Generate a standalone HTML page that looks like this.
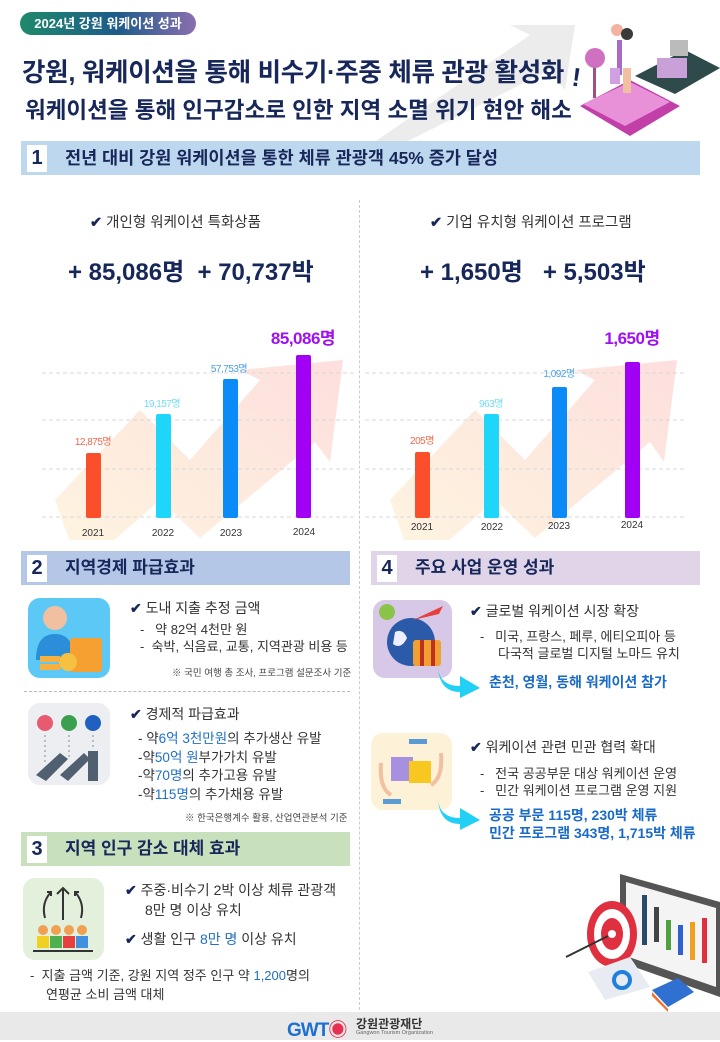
<!DOCTYPE html>
<html><head><meta charset="utf-8">
<style>
*{margin:0;padding:0;box-sizing:border-box}
body{width:720px;height:1040px;background:#fff;position:relative;overflow:hidden;font-family:"Liberation Sans","Noto Sans CJK KR",sans-serif;color:#222}
.a{position:absolute;white-space:nowrap}
.navy{color:#17275a}
.b{font-weight:bold}
.blue{color:#1f6fc5}
.hdr{position:absolute;height:34px}
.num{position:absolute;left:6px;top:4px;width:20px;height:27px;background:#fff;font-weight:bold;font-size:20px;color:#17275a;text-align:center;line-height:27px}
.ht{position:absolute;left:44px;top:0;line-height:34px;font-size:17px;font-weight:bold;color:#17275a}
.t{font-size:13px;color:#333}
.ck{color:#17275a;font-weight:bold}
</style></head><body>

<div class="a" style="left:20px;top:12px;width:176px;height:23px;border-radius:12px;background:linear-gradient(90deg,#1f8a6a,#1d5b8a 55%,#8a6fb0);color:#fff;font-size:13px;font-weight:bold;line-height:23px;text-align:center">2024년 강원 워케이션 성과</div>
<svg class="a" style="left:360px;top:15px" width="260" height="130"><polygon points="10,130 170,20 150,10 215,10 205,75 190,55 40,130" fill="#ececec"/></svg>
<div class="a navy b" style="left:22px;top:52px;font-size:25.5px;letter-spacing:-0.3px">강원, 워케이션을 통해 비수기·주중 체류 관광 활성화</div>
<div class="a navy b" style="left:572px;top:62px;font-size:26px;transform:rotate(8deg)">!</div>
<div class="a navy b" style="left:25px;top:93px;font-size:22.5px">워케이션을 통해 인구감소로 인한 지역 소멸 위기 현안 해소</div>
<svg class="a" style="left:575px;top:18px" width="145" height="122">
<polygon points="5,88 55,62 105,88 55,118" fill="#c33fa8"/>
<polygon points="8,86 55,64 95,84 50,108" fill="#e890d8"/>
<polygon points="60,58 110,32 145,50 100,76" fill="#2f4a4a"/>
<rect x="82" y="40" width="30" height="20" fill="#c9a0d8"/>
<rect x="95" y="22" width="18" height="16" fill="#bbb"/>
<circle cx="42" cy="12" r="6" fill="#f3b3a3"/>
<rect x="45" y="20" width="14" height="30" fill="#fff"/>
<rect x="42" y="22" width="5" height="35" fill="#a86bc8"/>
<rect x="48" y="50" width="8" height="25" fill="#f0c0a0"/>
<circle cx="52" cy="16" r="6" fill="#3a3a3a"/>
<rect x="18" y="40" width="3" height="40" fill="#a05080"/>
<circle cx="20" cy="40" r="10" fill="#d070c0"/>
<rect x="35" y="50" width="10" height="16" fill="#d0a0e0"/>
</svg>

<div class="hdr" style="left:21px;top:141px;width:679px;background:#bdd7ee"><div class="num">1</div><div class="ht" style="font-size:17.5px">전년 대비 강원 워케이션을 통한 체류 관광객 45% 증가 달성</div></div>

<div class="a" style="left:359px;top:200px;height:815px;border-left:1.5px dashed #ccc"></div>

<div class="a t" style="left:90px;top:211px;font-size:14.5px"><span class="ck">✔</span> 개인형 워케이션 특화상품</div>
<div class="a t" style="left:430px;top:211px;font-size:14.5px"><span class="ck">✔</span> 기업 유치형 워케이션 프로그램</div>
<div class="a navy b" style="left:68px;top:252px;font-size:24px">+ 85,086명&nbsp; + 70,737박</div>
<div class="a navy b" style="left:420px;top:252px;font-size:24px">+ 1,650명 &nbsp; + 5,503박</div>

<svg class="a" style="left:0;top:280px" width="720" height="260" font-family="Liberation Sans, Noto Sans CJK KR, sans-serif">
<defs>
<linearGradient id="g" x1="0" y1="1" x2="1" y2="0"><stop offset="0" stop-color="#fff3dc"/><stop offset="0.45" stop-color="#fde8d8"/><stop offset="1" stop-color="#fdd9d9"/></linearGradient>
</defs>
<polygon points="55,220 140,130 190,180 260,100 240,90 343,80 330,182 315,162 200,258 160,220 80,290" fill="url(#g)" opacity="0.85"/>
<polygon points="390,220 475,130 525,180 595,100 575,90 677,80 664,182 650,162 535,258 495,220 415,290" fill="url(#g)" opacity="0.85"/>
<g stroke="#d8d8d8" stroke-dasharray="4,3" stroke-width="1">
<line x1="42" y1="93" x2="355" y2="93"/><line x1="42" y1="140" x2="355" y2="140"/><line x1="42" y1="189" x2="355" y2="189"/><line x1="42" y1="237" x2="355" y2="237"/>
<line x1="365" y1="93" x2="685" y2="93"/><line x1="365" y1="140" x2="685" y2="140"/><line x1="365" y1="189" x2="685" y2="189"/><line x1="365" y1="237" x2="685" y2="237"/>
</g>
<rect x="86" y="173" width="15" height="65" rx="2" fill="#fb4f2b"/>
<rect x="156" y="134" width="15" height="104" rx="2" fill="#1ed5fa"/>
<rect x="223" y="99" width="15" height="139" rx="2" fill="#0a8bf8"/>
<rect x="296" y="75" width="15" height="163" rx="2" fill="#a100f5"/>
<rect x="415" y="172" width="15" height="66" rx="2" fill="#fb4f2b"/>
<rect x="484" y="134" width="15" height="104" rx="2" fill="#1ed5fa"/>
<rect x="552" y="107" width="15" height="131" rx="2" fill="#0a8bf8"/>
<rect x="625" y="82" width="15" height="156" rx="2" fill="#a100f5"/>
<g font-size="10" letter-spacing="-0.5">
<text x="93" y="165" fill="#f0684a" text-anchor="middle">12,875명</text>
<text x="162" y="127" fill="#6fdcf5" text-anchor="middle">19,157명</text>
<text x="229" y="92" fill="#4a9fe8" text-anchor="middle">57,753명</text>
<text x="422" y="164" fill="#f0684a" text-anchor="middle">205명</text>
<text x="491" y="127" fill="#6fdcf5" text-anchor="middle">963명</text>
<text x="559" y="97" fill="#4a9fe8" text-anchor="middle">1,092명</text>
</g>
<text x="303" y="64" fill="#a010f0" font-size="17" font-weight="bold" text-anchor="middle" letter-spacing="-0.5">85,086명</text>
<text x="632" y="64" fill="#a010f0" font-size="17" font-weight="bold" text-anchor="middle" letter-spacing="-0.5">1,650명</text>
<g font-size="10" fill="#333" text-anchor="middle">
<text x="93" y="256">2021</text><text x="163" y="256">2022</text><text x="231" y="256">2023</text><text x="304" y="255">2024</text>
<text x="422" y="250">2021</text><text x="492" y="250">2022</text><text x="559" y="249">2023</text><text x="632" y="248">2024</text>
</g>
</svg>

<div class="hdr" style="left:21px;top:551px;width:329px;background:#b4c7e7"><div class="num">2</div><div class="ht">지역경제 파급효과</div></div>
<div class="a" style="left:28px;top:598px;width:82px;height:80px;border-radius:12px;background:#5bc8f5"></div>
<svg class="a" style="left:28px;top:598px" width="82" height="80"><circle cx="27" cy="20" r="12" fill="#f0c0a0"/><path d="M8,62 Q8,36 27,36 Q46,36 46,62Z" fill="#2a8fd8"/><rect x="42" y="40" width="32" height="34" rx="3" fill="#f5a030"/><circle cx="40" cy="64" r="9" fill="#f8c040"/><rect x="12" y="58" width="20" height="6" fill="#f8b040"/><rect x="12" y="66" width="20" height="6" fill="#f8b040"/></svg>
<div class="a t" style="left:130px;top:598px;font-size:14px"><span class="ck">✔</span> 도내 지출 추정 금액</div>
<div class="a t blue" style="left:140px;top:619px">-&nbsp;&nbsp; 약 82억 4천만 <span style="color:#333">원</span></div>
<div class="a t" style="left:140px;top:636px">-&nbsp; 숙박, 식음료, 교통, 지역관광 비용 등</div>
<div class="a" style="left:172px;top:665px;font-size:9.5px;color:#444">※ 국민 여행 총 조사, 프로그램 설문조사 기준</div>
<div class="a" style="left:24px;top:691px;width:326px;border-top:1.5px dashed #bbb"></div>
<div class="a" style="left:28px;top:703px;width:82px;height:82px;border-radius:12px;background:#eceef2"></div>
<svg class="a" style="left:28px;top:703px" width="82" height="82"><circle cx="17" cy="20" r="8" fill="#e85a70"/><circle cx="41" cy="20" r="8" fill="#3aa050"/><circle cx="65" cy="20" r="8" fill="#2060c0"/><g stroke="#888" stroke-dasharray="2,3"><line x1="17" y1="32" x2="17" y2="60"/><line x1="41" y1="32" x2="41" y2="55"/><line x1="65" y1="32" x2="65" y2="45"/></g><polygon points="8,72 32,50 40,56 18,78" fill="#506070"/><polygon points="32,72 56,50 62,56 40,78" fill="#506070"/><rect x="60" y="48" width="10" height="30" fill="#506070"/></svg>
<div class="a t" style="left:130px;top:704px;font-size:14px"><span class="ck">✔</span> 경제적 파급효과</div>
<div class="a t" style="left:138px;top:727px;font-size:13.5px">- 약<span class="blue">6억 3천만원</span>의 추가생산 유발</div>
<div class="a t" style="left:138px;top:746px;font-size:13.5px">-약<span class="blue">50억 원</span>부가가치 유발</div>
<div class="a t" style="left:138px;top:764px;font-size:13.5px">-약<span class="blue">70명</span>의 추가고용 유발</div>
<div class="a t" style="left:138px;top:783px;font-size:13.5px">-약<span class="blue">115명</span>의 추가채용 유발</div>
<div class="a" style="left:185px;top:810px;font-size:9.5px;color:#444">※ 한국은행계수 활용, 산업연관분석 기준</div>

<div class="hdr" style="left:21px;top:832px;width:329px;background:#c9e0bd"><div class="num">3</div><div class="ht">지역 인구 감소 대체 효과</div></div>
<div class="a" style="left:23px;top:878px;width:81px;height:82px;border-radius:12px;background:#e3f0dc"></div>
<svg class="a" style="left:23px;top:878px" width="81" height="82"><g stroke="#333" stroke-width="2" fill="none"><path d="M40,42 L40,10 M34,16 L40,10 L46,16"/><path d="M22,40 Q18,25 28,14 M24,14 L28,14 L28,18"/><path d="M58,40 Q62,25 52,14 M56,14 L52,14 L52,18"/></g><g><circle cx="20" cy="52" r="5" fill="#f0a050"/><circle cx="33" cy="52" r="5" fill="#f0a050"/><circle cx="46" cy="52" r="5" fill="#f0a050"/><circle cx="59" cy="52" r="5" fill="#f0a050"/><rect x="14" y="58" width="12" height="12" fill="#f0d020"/><rect x="27" y="58" width="12" height="12" fill="#50b050"/><rect x="40" y="58" width="12" height="12" fill="#e84040"/><rect x="53" y="58" width="12" height="12" fill="#4090e0"/><rect x="10" y="72" width="60" height="2" fill="#333"/></g></svg>
<div class="a t" style="left:125px;top:880px;font-size:14px"><span class="ck">✔</span> 주중·비수기 2박 이상 체류 관광객</div>
<div class="a t" style="left:145px;top:900px;font-size:14px">8만 명 이상 유치</div>
<div class="a t" style="left:125px;top:929px;font-size:14px"><span class="ck">✔</span> 생활 인구 <span class="blue">8만 명</span> 이상 유치</div>
<div class="a t" style="left:30px;top:965px">-&nbsp; 지출 금액 기준, 강원 지역 정주 인구 약 <span class="blue">1,200</span>명의</div>
<div class="a t" style="left:46px;top:984px">연평균 소비 금액 대체</div>

<div class="hdr" style="left:371px;top:551px;width:329px;background:#e0d4e8"><div class="num">4</div><div class="ht">주요 사업 운영 성과</div></div>
<div class="a" style="left:373px;top:600px;width:79px;height:78px;border-radius:12px;background:#d8c8e8"></div>
<svg class="a" style="left:373px;top:600px" width="79" height="78"><circle cx="38" cy="42" r="24" fill="#2a5aa8"/><path d="M22,32 Q30,28 34,38 Q28,50 20,44Z" fill="#eef"/><rect x="40" y="40" width="28" height="26" rx="3" fill="#f0a030"/><rect x="47" y="40" width="4" height="26" fill="#c03020"/><rect x="58" y="40" width="4" height="26" fill="#c03020"/><circle cx="14" cy="12" r="8" fill="#8bc34a"/><polygon points="40,20 70,6 66,14" fill="#e84040"/></svg>
<div class="a t" style="left:470px;top:601px;font-size:14px"><span class="ck">✔</span> 글로벌 워케이션 시장 확장</div>
<div class="a t" style="left:480px;top:626px">-&nbsp;&nbsp; 미국, 프랑스, 페루, 에티오피아 등</div>
<div class="a t" style="left:498px;top:643px">다국적 글로벌 디지털 노마드 유치</div>
<svg class="a" style="left:436px;top:664px" width="48" height="36"><path d="M2,4 Q4,22 24,22 L24,12 L44,24 L24,34 L24,28 Q4,28 2,4Z" fill="#22d0f5"/></svg>
<div class="a b" style="left:489px;top:672px;font-size:14px;color:#1a6bc8">춘천, 영월, 동해 워케이션 참가</div>
<div class="a" style="left:371px;top:733px;width:81px;height:77px;border-radius:12px;background:#fdf2d8"></div>
<svg class="a" style="left:371px;top:733px" width="81" height="77"><rect x="38" y="6" width="18" height="5" fill="#5b9bd5"/><rect x="12" y="66" width="18" height="5" fill="#5b9bd5"/><rect x="20" y="24" width="22" height="24" fill="#a890e0"/><rect x="38" y="28" width="22" height="22" fill="#f8c820"/><path d="M10,30 Q8,55 20,62" stroke="#f0c0a0" stroke-width="4" fill="none"/><path d="M70,20 Q72,45 60,52" stroke="#f0c0a0" stroke-width="4" fill="none"/></svg>
<div class="a t" style="left:470px;top:737px;font-size:14px"><span class="ck">✔</span> 워케이션 관련 민관 협력 확대</div>
<div class="a t" style="left:480px;top:763px">-&nbsp;&nbsp; 전국 공공부문 대상 워케이션 운영</div>
<div class="a t" style="left:480px;top:780px">-&nbsp;&nbsp; 민간 워케이션 프로그램 운영 지원</div>
<svg class="a" style="left:436px;top:796px" width="48" height="36"><path d="M2,4 Q4,22 24,22 L24,12 L44,24 L24,34 L24,28 Q4,28 2,4Z" fill="#22d0f5"/></svg>
<div class="a b" style="left:489px;top:805px;font-size:14px;color:#1a6bc8">공공 부문 115명, 230박 체류</div>
<div class="a b" style="left:489px;top:823px;font-size:14px;color:#1a6bc8">민간 프로그램 343명, 1,715박 체류</div>

<svg class="a" style="left:560px;top:862px" width="160" height="150">
<polygon points="60,12 160,40 160,135 60,100" fill="#555"/>
<polygon points="66,20 156,46 156,125 66,94" fill="#f4f4f4"/>
<g><rect x="82" y="33" width="5" height="50" fill="#2a4a6a"/><rect x="94" y="45" width="5" height="35" fill="#444"/><rect x="106" y="58" width="5" height="30" fill="#50a040"/><rect x="118" y="63" width="5" height="30" fill="#3060d0"/><rect x="130" y="60" width="5" height="38" fill="#f0a020"/><rect x="142" y="56" width="5" height="45" fill="#e03040"/></g>
<ellipse cx="52" cy="72" rx="25" ry="33" fill="#e03040"/><ellipse cx="52" cy="72" rx="18" ry="25" fill="#fff"/><ellipse cx="52" cy="72" rx="11" ry="16" fill="#e03040"/><circle cx="52" cy="72" r="4" fill="#fff"/>
<line x1="48" y1="74" x2="6" y2="95" stroke="#333" stroke-width="2"/>
<polygon points="28,110 70,95 90,125 45,138" fill="#e8ecf2"/>
<circle cx="62" cy="118" r="8" fill="none" stroke="#2080e0" stroke-width="4"/>
<polygon points="92,128 118,116 134,130 108,145" fill="#3070d0"/><polygon points="92,130 108,147 108,150 92,134" fill="#f07030"/>
</svg>

<div class="a" style="left:0;top:1012px;width:720px;height:28px;background:#e9e9e9"></div>
<div class="a b" style="left:287px;top:1015px;font-size:19px;color:#1d6fd0;letter-spacing:-1px">GWT<span style="color:#e83050">◉</span></div>
<div class="a b" style="left:356px;top:1015px;font-size:12px;color:#333">강원관광재단</div>
<div class="a" style="left:356px;top:1030px;font-size:5.5px;color:#666">Gangwon Tourism Organization</div>
</body></html>
